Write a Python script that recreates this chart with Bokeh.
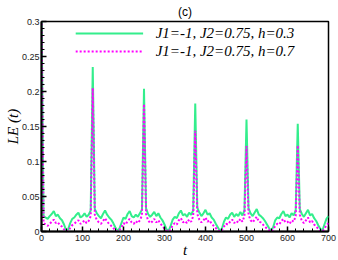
import numpy as np
from bokeh.plotting import figure
from bokeh.models import FixedTicker, Legend, LegendItem, Range1d
from bokeh.embed import file_html
from bokeh.resources import INLINE

title_text = "(c)"
x_label = "t"
y_label = "LE (t)"
series_names = ["J1=-1, J2=0.75, h=0.3", "J1=-1, J2=0.75, h=0.7"]

t = list(range(0, 701, 5))

le_h03 = [
    0.32, 0.022, 0.020, 0.018, 0.022, 0.025, 0.029, 0.022, 0.024, 0.019, 0.016, 0.010, 0.002,
    0.003, 0.012, 0.018, 0.020, 0.024, 0.027, 0.020, 0.022, 0.026, 0.021, 0.024, 0.030,
    0.235,
    0.032, 0.026, 0.022, 0.019, 0.025, 0.030, 0.024, 0.020, 0.017, 0.012, 0.006, 0.001,
    0.004, 0.012, 0.020, 0.018, 0.025, 0.029, 0.022, 0.020, 0.024, 0.021, 0.026, 0.031,
    0.204,
    0.033, 0.025, 0.021, 0.024, 0.028, 0.022, 0.026, 0.020, 0.016, 0.010, 0.003, 0.001,
    0.008, 0.017, 0.021, 0.019, 0.026, 0.030, 0.023, 0.025, 0.021, 0.027, 0.024, 0.030,
    0.183,
    0.034, 0.027, 0.022, 0.026, 0.031, 0.024, 0.026, 0.020, 0.017, 0.011, 0.006, 0.001,
    0.004, 0.014, 0.020, 0.018, 0.024, 0.027, 0.021, 0.025, 0.022, 0.028, 0.023, 0.030,
    0.160,
    0.033, 0.026, 0.022, 0.027, 0.032, 0.024, 0.022, 0.019, 0.015, 0.010, 0.005, 0.001,
    0.006, 0.016, 0.020, 0.019, 0.025, 0.029, 0.022, 0.024, 0.020, 0.026, 0.023, 0.030,
    0.154,
    0.032, 0.025, 0.021, 0.026, 0.031, 0.023, 0.025, 0.019, 0.015, 0.009, 0.004, 0.001,
    0.010, 0.018, 0.022,
]

le_h07 = [
    0.32, 0.012, 0.010, 0.008, 0.011, 0.014, 0.017, 0.012, 0.013, 0.009, 0.007, 0.003, 0.000,
    0.001, 0.005, 0.009, 0.011, 0.014, 0.016, 0.011, 0.013, 0.016, 0.012, 0.015, 0.022,
    0.205,
    0.024, 0.016, 0.013, 0.011, 0.015, 0.019, 0.014, 0.011, 0.008, 0.005, 0.002, 0.000,
    0.002, 0.006, 0.012, 0.010, 0.015, 0.018, 0.013, 0.011, 0.015, 0.012, 0.016, 0.023,
    0.182,
    0.025, 0.016, 0.012, 0.014, 0.018, 0.013, 0.016, 0.011, 0.008, 0.004, 0.001, 0.000,
    0.003, 0.009, 0.012, 0.010, 0.016, 0.019, 0.013, 0.015, 0.012, 0.017, 0.014, 0.022,
    0.144,
    0.025, 0.017, 0.013, 0.016, 0.020, 0.014, 0.016, 0.011, 0.008, 0.005, 0.002, 0.000,
    0.002, 0.007, 0.011, 0.010, 0.014, 0.017, 0.012, 0.015, 0.013, 0.018, 0.014, 0.022,
    0.122,
    0.024, 0.016, 0.013, 0.017, 0.021, 0.014, 0.013, 0.010, 0.007, 0.004, 0.002, 0.000,
    0.003, 0.008, 0.011, 0.010, 0.015, 0.018, 0.013, 0.014, 0.011, 0.016, 0.014, 0.022,
    0.123,
    0.024, 0.015, 0.012, 0.016, 0.020, 0.013, 0.015, 0.010, 0.007, 0.004, 0.001, 0.000,
    0.004, 0.009, 0.012,
]

x_ticks = [0, 100, 200, 300, 400, 500, 600, 700]
x_tick_labels = ["0", "100", "200", "300", "400", "500", "600", "700"]
y_ticks = [0.0, 0.05, 0.1, 0.15, 0.2, 0.25, 0.3]
y_tick_labels = ["0", "0.05", "0.1", "0.15", "0.2", "0.25", "0.3"]

GREEN = "#33ee8c"
MAGENTA = "#ff00ff"
SERIF = "Liberation Serif"
SANS = "Liberation Sans"

p = figure(width=338, height=260, output_backend="svg", toolbar_location=None,
           x_range=Range1d(0, 700), y_range=Range1d(0, 0.3),
           title=title_text)
p.min_border_left = 41
p.min_border_right = 10
p.min_border_top = 20
p.min_border_bottom = 27
p.background_fill_color = "white"
p.border_fill_color = "white"
p.outline_line_color = "black"
p.outline_line_width = 1.5
p.grid.visible = False

p.title.align = "center"
p.title.text_font = SANS
p.title.text_font_size = "12px"
p.title.text_font_style = "normal"
p.title.text_color = "black"
p.title.standoff = 5

r1 = p.line(t, le_h03, line_color=GREEN, line_width=2)
r2 = p.line(t, le_h07, line_color=MAGENTA, line_width=2, line_dash="2 2")

p.xaxis.ticker = FixedTicker(ticks=x_ticks, minor_ticks=list(np.arange(0, 701, 20)))
p.yaxis.ticker = FixedTicker(ticks=y_ticks, minor_ticks=list(np.round(np.arange(0, 0.301, 0.01), 3)))
p.xaxis.major_label_overrides = {tk: lb for tk, lb in zip(x_ticks, x_tick_labels)}
p.yaxis.major_label_overrides = {tk: lb for tk, lb in zip(y_ticks, y_tick_labels)}
for ax in (p.xaxis[0], p.yaxis[0]):
    ax.axis_line_color = "black"
    ax.axis_line_width = 2
    ax.major_tick_in = 5
    ax.major_tick_out = 0
    ax.minor_tick_in = 3
    ax.minor_tick_out = 0
    ax.major_tick_line_color = "black"
    ax.major_tick_line_width = 1.5
    ax.minor_tick_line_color = "black"
    ax.minor_tick_line_width = 1
    ax.major_label_text_font = SANS
    ax.major_label_text_font_size = "9px"
    ax.major_label_text_color = "#222222"
    ax.axis_label_text_font = SERIF
    ax.axis_label_text_font_style = "italic"
    ax.axis_label_text_font_size = "15px"
    ax.axis_label_text_color = "black"

p.xaxis.axis_label = x_label
p.xaxis.major_label_standoff = 3
p.xaxis.axis_label_standoff = -2
p.yaxis.axis_label = y_label
p.yaxis.major_label_standoff = 2
p.yaxis.axis_label_standoff = -2

legend = Legend(items=[LegendItem(label=series_names[0], renderers=[r1]),
                       LegendItem(label=series_names[1], renderers=[r2])],
                location="top_center")
legend.border_line_color = None
legend.background_fill_alpha = 0
legend.margin = 3
legend.padding = 0
legend.spacing = 0
legend.glyph_width = 68
legend.glyph_height = 18
legend.label_height = 18
legend.label_standoff = 13
legend.label_text_font = SERIF
legend.label_text_font_style = "italic"
legend.label_text_font_size = "15px"
legend.label_text_color = "black"
p.add_layout(legend)

open("out.html", "w").write(file_html(p, INLINE))
